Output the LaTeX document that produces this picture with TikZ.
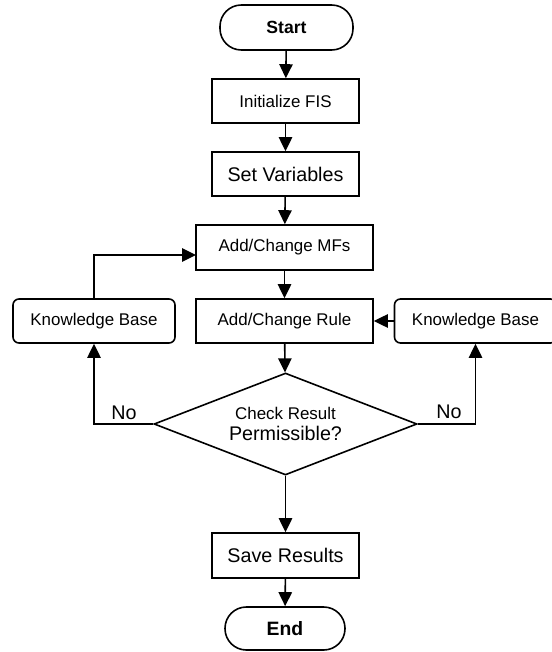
\documentclass[tikz,border=0pt]{standalone}
\usepackage{fontspec}
\setmainfont{Liberation Sans}
\usetikzlibrary{arrows.meta,shapes.geometric}

\tikzset{every picture/.style={line width=0.75pt}}
\tikzset{
  procbox/.style={draw, line width=1.2pt, rectangle, inner sep=0pt, minimum width=110.25pt, minimum height=33pt},
  widebox/.style={procbox, minimum width=132.75pt},
  kbbox/.style={procbox, rounded corners=4.5pt, minimum width=121.5pt},
  termbox/.style={draw, line width=1.2pt, rectangle, inner sep=0pt, rounded corners=16pt, font=\fontsize{13.2}{15}\selectfont\bfseries},
  decbox/.style={draw, line width=1.2pt, diamond, inner sep=0pt, aspect=2.58, minimum width=197.25pt, minimum height=76.5pt},
  flowline/.style={line width=1.2pt, -{Triangle[length=10.5pt,width=10pt]}},
  smalltxt/.style={font=\fontsize{12.7}{14}\selectfont},
  bigtxt/.style={font=\fontsize{14.8}{17}\selectfont}
}

\begin{document}
\begin{tikzpicture}[x=0.75pt,y=0.75pt,yscale=-1,xscale=1]
		\useasboundingbox (0,0) rectangle (551,652);

		%Shape: Terminal [id:start]
		\node[termbox, minimum width=99.75pt, minimum height=33.75pt] (start) at (286.5,27.5) {Start};
		%Shape: Rectangle [id:init]
		\node[procbox, smalltxt] (init) at (285.5,101) {Initialize FIS};
		%Shape: Rectangle [id:setvar]
		\node[procbox, bigtxt] (setvar) at (285.5,174) {Set Variables};
		%Shape: Rectangle [id:mfs]
		\node[widebox, smalltxt, minimum height=33.75pt] (mfs) at (284.5,247.5) {Add/Change MFs};
		%Shape: Rectangle [id:rule]
		\node[widebox, smalltxt] (rule) at (284.5,321) {Add/Change Rule};
		%Shape: Rounded Rectangle [id:kbleft]
		\node[kbbox, smalltxt] (kbleft) at (94,321) {Knowledge Base};
		%Shape: Rounded Rectangle [id:kbright]
		\node[kbbox, smalltxt] (kbright) at (475.5,321) {Knowledge Base};
		%Shape: Diamond [id:check]
		\node[decbox, align=center, font=\fontsize{14.8}{15.5}\selectfont] (check) at (285.5,424) {{\fontsize{12.7}{14}\selectfont Check Result}\\{\fontsize{14.8}{17}\selectfont Permissible?}};
		%Shape: Rectangle [id:save]
		\node[procbox, bigtxt, minimum height=33.75pt] (save) at (285.5,555.5) {Save Results};
		%Shape: Terminal [id:end]
		\node[termbox, minimum width=90pt, minimum height=32.25pt, font=\fontsize{14.5}{17}\selectfont\bfseries] (end) at (285,628.5) {End};

		%Entry point of the loop into the MFs box
		\coordinate (mfsin) at (196,255);

		%Straight Lines
		\draw[flowline] (start) -- (init);
		\draw[flowline] (init) -- (setvar);
		\draw[flowline] (setvar) -- (mfs);
		\draw[flowline] (mfs) -- (rule);
		\draw[flowline] (rule) -- (check);
		\draw[flowline] (check) -- (save);
		\draw[flowline] (save) -- (end);
		\draw[flowline] (kbright) -- (rule);
		%Elbow Lines
		\draw[flowline] (check.west) -| (kbleft.south);
		\draw[flowline] (check.east) -| (kbright.south);
		\draw[flowline] (kbleft.north) |- (mfsin);

		% Text Node
		\node[bigtxt] (noleft) at (124,413) {No};
		% Text Node
		\node[bigtxt] (noright) at (449,412) {No};

\end{tikzpicture}
\end{document}
